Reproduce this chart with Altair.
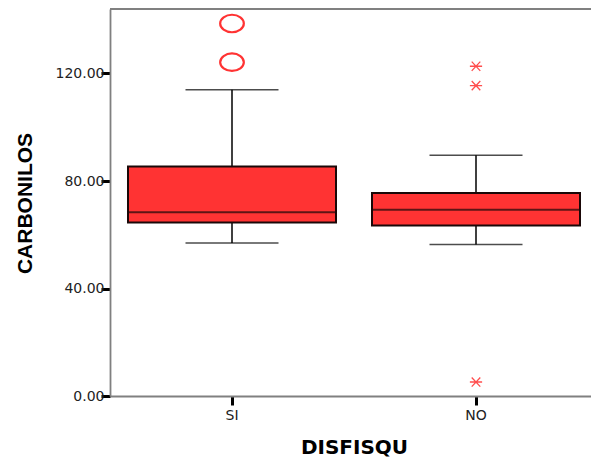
import altair as alt
import pandas as pd

categories = ["SI", "NO"]
q1 = [64.6, 63.4]
median = [68.4, 69.3]
q3 = [85.4, 75.5]
whisker_low = [56.9, 56.4]
whisker_high = [114.0, 89.6]

si_outliers = [138.6, 124.2]
no_extremes = [122.7, 115.5, 5.2]

y_ticks = [0, 40, 80, 120]

box_df = pd.DataFrame({
    "cat": categories, "q1": q1, "median": median, "q3": q3,
    "lo": whisker_low, "hi": whisker_high,
})
out_df = pd.DataFrame({"cat": ["SI"] * len(si_outliers), "v": si_outliers})
ext_df = pd.DataFrame({"cat": ["NO"] * len(no_extremes), "v": no_extremes})

xscale = alt.Scale(domain=categories, range=[0, 488], paddingInner=0, paddingOuter=0)
yscale = alt.Scale(domain=[0, 144], nice=False, zero=False)

x_axis = alt.Axis(title="DISFISQU", labelAngle=0, titleX=244, titleY=51,
                  titleBaseline="middle", titleFont="DejaVu Sans",
                  titleFontSize=20, labelFont="DejaVu Sans",
                  labelFontSize=14, labelPadding=3)
y_axis = alt.Axis(title="CARBONILOS", values=y_ticks, format=".2f",
                  titleX=-85, titleY=194, titleBaseline="middle",
                  titleAngle=-90, labelPadding=-3,
                  labelFont="DejaVu Sans", labelFontSize=14,
                  titleFont="Liberation Sans", titleFontSize=21)


def X():
    return alt.X("cat:N", scale=xscale, sort=categories, axis=x_axis)


def Y(field):
    return alt.Y(field, scale=yscale, axis=y_axis)


whisker = alt.Chart(box_df).mark_rule(color="black", strokeWidth=1.5).encode(
    x=X(), y=Y("lo:Q"), y2="hi:Q")

box = alt.Chart(box_df).mark_bar(size=208, fill="#FF3333", stroke="#1a0808",
                                  strokeWidth=2).encode(
    x=X(), y=Y("q1:Q"), y2="q3:Q")

med = alt.Chart(box_df).mark_tick(size=208, thickness=2, color="#1a0808").encode(
    x=X(), y=Y("median:Q"))

cap_lo = alt.Chart(box_df).mark_tick(size=93, thickness=1.5, color="black").encode(
    x=X(), y=Y("lo:Q"))
cap_hi = alt.Chart(box_df).mark_tick(size=93, thickness=1.5, color="black").encode(
    x=X(), y=Y("hi:Q"))

ellipse = "M -1 0 A 1 0.74 0 1 1 1 0 A 1 0.74 0 1 1 -1 0 Z"
outl = alt.Chart(out_df).mark_point(shape=ellipse, size=560, filled=False,
                                     stroke="#FF3333", strokeWidth=2.2, opacity=1).encode(
    x=X(), y=Y("v:Q"))

aster = "M -1 0 L 1 0 M -0.7 -0.75 L 0.7 0.75 M -0.7 0.75 L 0.7 -0.75"
ext = alt.Chart(ext_df).mark_point(shape=aster, size=150, filled=False,
                                    stroke="#FF4D4D", strokeWidth=1.3, opacity=1).encode(
    x=X(), y=Y("v:Q"))

top = alt.Chart(box_df).mark_rule(color="#808080", strokeWidth=1.8).encode(
    x=alt.value(0), x2=alt.value(490), y=alt.value(0))

chart = alt.layer(whisker, box, med, cap_lo, cap_hi, outl, ext, top).properties(
    width=481, height=387,
    autosize=alt.AutoSizeParams(type="none"),
    padding={"left": 110, "top": 9, "right": 0, "bottom": 61},
    background="white",
).configure_view(stroke=None).configure_axis(
    grid=False,
    domainColor="#808080", domainWidth=1.8,
    tickColor="black", tickWidth=3, tickSize=9,
    labelColor="#222222", labelFontSize=14,
    titleFontWeight="bold", titleColor="black",
)

chart.save("out.html", embed_options={"renderer": "svg", "actions": False})
